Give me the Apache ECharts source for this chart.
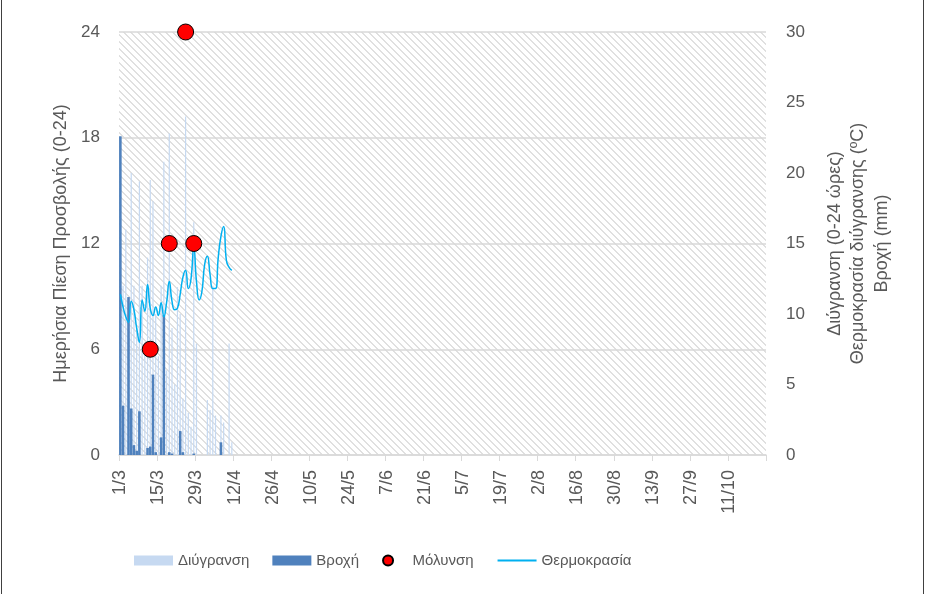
<!DOCTYPE html>
<html>
<head>
<meta charset="utf-8">
<script src="https://cdn.jsdelivr.net/npm/echarts@6/dist/echarts.min.js"></script>
<style>
  html, body { margin: 0; padding: 0; background: #fff; }
  #chart { width: 926px; height: 594px; }
</style>
</head>
<body>
<div id="chart"></div>
<script>
// ημέρες από 1/3 έως 24/10
const startDay = new Date(2023, 2, 1);
const dayCount = 238;
const categories = [];
for (let i = 0; i < dayCount; i++) {
    const d = new Date(startDay.getTime() + i * 86400000);
    categories.push(d.getDate() + '/' + (d.getMonth() + 1));
}

// Διύγρανση (ώρες), από 1/3
const wetness = [20, 12, 16, 11, 20, 12, 9, 19.4, 12, 8, 14, 19.5, 18, 10, 7, 12, 20.8, 6, 22.8, 9, 5,
    11.9, 10, 4, 24, 3, 2, 16.5, 7.9, 0, 0, 0, 3.9, 3.2, 12, 2.8, 0, 2.8, 2.3, 0, 7.9, 0.9];
// Βροχή (mm)
const rain = [22.6, 3.5, 0, 11.2, 3.3, 0.7, 0.3, 3.1, 0, 0, 0.5, 0.6, 5.7, 0.2, 0, 1.25, 9.9, 0, 0.2, 0.1,
    0, 0, 1.7, 0.2, 0, 0, 0, 0.1, 0, 0, 0, 0, 0, 0, 0, 0, 0, 0.9];
// Θερμοκρασία διύγρανσης (°C)
const temperature = [11.4, 10.5, 9.8, 9.4, 10.9, 10.3, 9.0, 8.0, 11.0, 10.2, 12.1, 10.4, 9.9, 10.5, 9.9,
    10.8, 9.8, 10.8, 12.3, 10.9, 10.3, 10.4, 11.4, 12.6, 13.1, 11.8, 12.5, 14.8, 12.3, 11.0, 11.6, 13.5,
    14.1, 12.8, 11.8, 11.8, 14.0, 15.5, 16.2, 13.8, 13.3, 13.1];
// Μόλυνση
const infectionDays = ['12/3', '19/3', '25/3', '28/3'];
const infectionValues = [6, 12, 24, 12];

const leftTicks = [0, 6, 12, 18, 24];
const rightTicks = [0, 5, 10, 15, 20, 25, 30];

// γραμμοσκίαση φόντου
function hatch() {
    const c = document.createElement('canvas');
    const p = 7;
    c.width = p; c.height = p;
    const ctx = c.getContext('2d');
    ctx.fillStyle = '#ffffff';
    ctx.fillRect(0, 0, p, p);
    ctx.fillStyle = '#e0e0e0';
    for (let x = 0; x < p; x++) {
        for (let y = 0; y < p; y++) {
            if ((((x - y) % p) + p) % p < 2) ctx.fillRect(x, y, 1, 1);
        }
    }
    return c;
}

const font = '"Liberation Sans", Arial, sans-serif';
const gray = '#595959';

let myChart = echarts.init(document.getElementById('chart'));

const option = {
    animation: false,
    textStyle: { fontFamily: font },
    grid: {
        left: 119, right: 160, top: 32, bottom: 139,
        show: true,
        borderWidth: 0,
        backgroundColor: { image: hatch(), repeat: 'repeat' }
    },
    legend: {
        left: 134,
        top: 553,
        padding: 0,
        itemWidth: 39,
        itemHeight: 10,
        itemGap: 23,
        textStyle: { color: gray, fontSize: 15, fontFamily: font },
        data: [
            { name: 'Διύγρανση', icon: 'rect' },
            { name: 'Βροχή', icon: 'rect' },
            { name: 'Μόλυνση', icon: 'circle' },
            { name: 'Θερμοκρασία', itemStyle: { opacity: 0 }, lineStyle: { width: 2 } }
        ]
    },
    xAxis: [
        {
            type: 'category',
            data: categories,
            boundaryGap: true,
            axisLine: { lineStyle: { color: '#d9d9d9', width: 1.5 } },
            axisTick: { show: true, interval: 13, length: 6, lineStyle: { color: '#d9d9d9' } },
            axisLabel: { interval: 13, rotate: 90, color: gray, fontSize: 18, margin: 15 }
        },
        {
            type: 'category',
            data: categories,
            show: false
        }
    ],
    yAxis: [
        {
            type: 'value',
            min: 0, max: 24, interval: 6,
            name: 'Ημερήσια Πίεση Προσβολής (0-24)',
            nameLocation: 'middle',
            nameGap: 49,
            nameRotate: 90,
            nameTextStyle: { color: gray, fontSize: 18 },
            axisLine: { show: false },
            axisTick: { show: false },
            axisLabel: {
                color: gray, fontSize: 17, margin: 19,
                formatter: v => leftTicks.includes(v) ? String(v) : ''
            },
            splitLine: { lineStyle: { color: '#d9d9d9', width: 1.5 } }
        },
        {
            type: 'value',
            position: 'right',
            min: 0, max: 30, interval: 5,
            name: 'Διύγρανση (0-24 ώρες)\nΘερμοκρασία διύγρανσης (ºC)\nΒροχή (mm)',
            nameLocation: 'middle',
            nameGap: 57,
            nameRotate: 90,
            nameTextStyle: { color: gray, fontSize: 18, lineHeight: 23.5, align: 'center' },
            axisLine: { show: false },
            axisTick: { show: false },
            axisLabel: {
                color: gray, fontSize: 17, margin: 20,
                formatter: v => rightTicks.includes(v) ? String(v) : ''
            },
            splitLine: { show: false }
        }
    ],
    series: [
        {
            name: 'Διύγρανση',
            type: 'bar',
            xAxisIndex: 0,
            yAxisIndex: 1,
            data: wetness,
            barWidth: 1.2,
            itemStyle: { color: '#c6d9f1' },
            z: 2
        },
        {
            name: 'Βροχή',
            type: 'bar',
            xAxisIndex: 1,
            yAxisIndex: 1,
            data: rain,
            barWidth: 2.6,
            itemStyle: { color: '#4f81bd' },
            z: 3
        },
        {
            name: 'Θερμοκρασία',
            type: 'line',
            xAxisIndex: 0,
            yAxisIndex: 1,
            data: temperature,
            smooth: true,
            symbol: 'none',
            showSymbol: false,
            lineStyle: { color: '#00b0f0', width: 1.5 },
            itemStyle: { color: '#00b0f0' },
            z: 4
        },
        {
            name: 'Μόλυνση',
            type: 'scatter',
            xAxisIndex: 0,
            yAxisIndex: 0,
            data: infectionDays.map((d, i) => [d, infectionValues[i]]),
            symbolSize: 16,
            itemStyle: { color: '#ff0000', borderColor: '#000000', borderWidth: 1, opacity: 1 },
            z: 5
        }
    ],
    graphic: [
        { type: 'line', shape: { x1: 1.5, y1: 0, x2: 1.5, y2: 594 }, style: { stroke: '#404040', lineWidth: 1 } },
        { type: 'line', shape: { x1: 923.5, y1: 0, x2: 923.5, y2: 594 }, style: { stroke: '#404040', lineWidth: 1 } }
    ]
};

myChart.setOption(option);
window.addEventListener('resize', () => {
    myChart.resize()
})
</script>
</body>
</html>
